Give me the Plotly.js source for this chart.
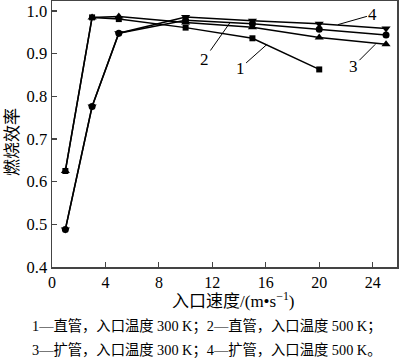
<!DOCTYPE html>
<html>
<head>
<meta charset="utf-8">
<script src="https://cdn.plot.ly/plotly-3.0.1.min.js"></script>
<style>html,body{margin:0;padding:0;background:#fff;}#chart{width:400px;height:361px;}</style>
</head>
<body>
<div id="chart"></div>
<script>
// Data
const x1 = [1, 3, 5, 10, 15, 20];
const y1 = [0.625, 0.985, 0.981, 0.961, 0.936, 0.863];
const x2 = [1, 3, 5, 10, 15, 20, 25];
const y2 = [0.488, 0.776, 0.948, 0.978, 0.970, 0.957, 0.944];
const x3 = [1, 3, 5, 10, 15, 20, 25];
const y3 = [0.625, 0.985, 0.987, 0.973, 0.962, 0.938, 0.922];
const x4 = [1, 3, 5, 10, 15, 20, 25];
const y4 = [0.488, 0.776, 0.948, 0.986, 0.977, 0.970, 0.959];
const seriesLabels = ['1', '2', '3', '4'];
const xTicks = [0, 4, 8, 12, 16, 20, 24];
const yTicks = [0.4, 0.5, 0.6, 0.7, 0.8, 0.9, 1.0];
const xTitle = '入口速度/(m•s<sup>−1</sup>)';
const yTitle = '燃烧效率';
const caption1 = '1—直管，入口温度 300 K；2—直管，入口温度 500 K；';
const caption2 = '3—扩管，入口温度 300 K；4—扩管，入口温度 500 K。';

const FONT = '"Liberation Serif", "Times New Roman", "Noto Sans CJK SC", serif';
const line = {color: '#000', width: 1.5};
function tr(x, y, sym, size) {
  return {x: x, y: y, type: 'scatter', mode: 'lines+markers', line: line,
    marker: {symbol: sym, size: size, color: '#000'}, showlegend: false, hoverinfo: 'skip'};
}
const data = [
  tr(x1, y1, 'square', 6),
  tr(x2, y2, 'circle', 7),
  tr(x3, y3, 'triangle-up', 8),
  tr(x4, y4, 'triangle-down', 8)
];

function lab(i, x, y, ax, ay) {
  return {x: x, y: y, xref: 'x', yref: 'y', text: seriesLabels[i], showarrow: true,
    arrowhead: 0, arrowwidth: 1, arrowcolor: '#000', ax: ax, ay: ay, standoff: 0,
    font: {family: FONT, size: 17, color: '#000'}};
}

const layout = {
  width: 400, height: 361,
  margin: {l: 52, r: 3, t: 1, b: 94},
  paper_bgcolor: '#fff', plot_bgcolor: '#fff',
  font: {family: FONT, size: 16, color: '#000'},
  xaxis: {
    range: [0, 25.82], tickvals: xTicks, ticktext: xTicks.map(String),
    ticks: 'inside', ticklen: 5, tickcolor: '#444', tickwidth: 1.2,
    showline: true, linecolor: '#444', linewidth: 1.5, mirror: true,
    showgrid: false, zeroline: false,
    tickfont: {family: FONT, size: 16, color: '#000'}
  },
  yaxis: {
    range: [0.4, 1.0234], tickvals: yTicks, ticktext: yTicks.map(v => v.toFixed(1)),
    ticks: 'inside', ticklen: 5, tickcolor: '#444', tickwidth: 1.2,
    showline: true, linecolor: '#444', linewidth: 1.5, mirror: true,
    showgrid: false, zeroline: false,
    tickfont: {family: FONT, size: 16.5, color: '#000'}
  },
  annotations: [
    lab(3, 21.4, 0.968, 35, -10),
    lab(2, 24.2, 0.922, -22, 22),
    lab(1, 13.35, 0.974, -26, 37),
    lab(0, 16.1, 0.922, -27, 24),
    {xref: 'paper', yref: 'paper', x: (233 - 52) / 345, y: (267 - 300) / 266,
     text: xTitle, showarrow: false, xanchor: 'center', yanchor: 'middle',
     font: {family: FONT, size: 17, color: '#000'}},
    {xref: 'paper', yref: 'paper', x: (12 - 52) / 345, y: (267 - 142) / 266,
     text: yTitle, showarrow: false, textangle: -90, xanchor: 'center', yanchor: 'middle',
     font: {family: FONT, size: 17, color: '#000'}},
    {xref: 'paper', yref: 'paper', x: (30 - 52) / 345, y: (267 - 327) / 266,
     text: caption1, showarrow: false, xanchor: 'left', yanchor: 'middle',
     font: {family: FONT, size: 14.3, color: '#000'}},
    {xref: 'paper', yref: 'paper', x: (30 - 52) / 345, y: (267 - 350) / 266,
     text: caption2, showarrow: false, xanchor: 'left', yanchor: 'middle',
     font: {family: FONT, size: 14.3, color: '#000'}}
  ]
};

Plotly.newPlot('chart', data, layout, {staticPlot: true, displayModeBar: false});
</script>
</body>
</html>
